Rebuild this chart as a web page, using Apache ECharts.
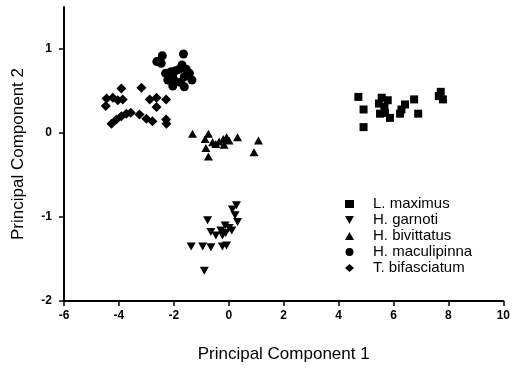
<!DOCTYPE html>
<html>
<head>
<meta charset="utf-8">
<script src="https://cdn.jsdelivr.net/npm/echarts@6/dist/echarts.min.js"></script>
<style>
  html, body { margin: 0; padding: 0; background: #fff; }
  #chart { width: 513px; height: 368px; }
</style>
</head>
<body>
<div id="chart"></div>
<script>
// PCA scores: [PC1, PC2]
var lMaximus = [
  [4.72, 0.43], [4.91, 0.28], [4.91, 0.07], [5.57, 0.42], [5.79, 0.39],
  [5.47, 0.35], [5.67, 0.31], [5.51, 0.23], [5.69, 0.24], [5.87, 0.18],
  [6.29, 0.28], [6.42, 0.34], [6.24, 0.23], [6.75, 0.40], [6.90, 0.23],
  [7.65, 0.44], [7.80, 0.40], [7.72, 0.49]
]
var hGarnoti = [
  [0.28, -0.86], [0.13, -0.91], [0.23, -0.98], [0.32, -1.06], [-0.77, -1.04],
  [-0.13, -1.10], [0.01, -1.13], [0.11, -1.16], [-0.65, -1.18], [-0.47, -1.22],
  [-0.23, -1.22], [-0.11, -1.19], [-0.29, -1.16], [-1.37, -1.35], [-0.95, -1.35],
  [-0.65, -1.36], [-0.23, -1.35], [-0.08, -1.34], [-0.89, -1.64]
]
var hBivittatus = [
  [-1.32, -0.01], [-0.74, -0.01], [-0.86, -0.07], [-0.59, -0.11], [-0.47, -0.13],
  [-0.35, -0.10], [-0.20, -0.07], [-0.08, -0.05], [0.01, -0.09], [-0.17, -0.14],
  [0.32, -0.05], [-0.83, -0.18], [-0.74, -0.28], [1.08, -0.09], [0.92, -0.23]
]
var hMaculipinna = [
  [-1.65, 0.94], [-2.42, 0.92], [-2.62, 0.85], [-2.46, 0.83], [-1.70, 0.81],
  [-2.30, 0.71], [-2.10, 0.73], [-1.94, 0.74], [-1.80, 0.76], [-1.55, 0.76],
  [-1.43, 0.71], [-1.34, 0.63], [-1.62, 0.67], [-2.04, 0.67], [-2.22, 0.63],
  [-1.92, 0.61], [-1.74, 0.60], [-2.04, 0.56], [-1.62, 0.55], [-2.20, 0.70]
]
var tBifasciatum = [
  [-3.91, 0.53], [-3.18, 0.54], [-4.45, 0.41], [-4.22, 0.42], [-4.04, 0.39],
  [-3.86, 0.40], [-4.48, 0.32], [-2.88, 0.40], [-2.63, 0.42], [-2.28, 0.40],
  [-2.63, 0.31], [-4.27, 0.11], [-4.09, 0.16], [-3.91, 0.20], [-3.73, 0.23],
  [-3.57, 0.24], [-3.25, 0.22], [-3.00, 0.17], [-2.78, 0.14], [-2.28, 0.16],
  [-2.27, 0.11]
]
var names = ['L. maximus', 'H. garnoti', 'H. bivittatus', 'H. maculipinna', 'T. bifasciatum']
var yTicks = [-2, -1, 0, 1]

var downTri = 'path://M0,0L10,0L5,9Z'
var font = 'Arial, "Liberation Sans", sans-serif'

var chart = echarts.init(document.getElementById('chart'))

function makeSeries(name, data, symbol, size) {
  return {
    name: name,
    type: 'scatter',
    data: data,
    symbol: symbol,
    symbolSize: size,
    itemStyle: { color: '#000', opacity: 1 },
    emphasis: { disabled: true },
    animation: false
  }
}

chart.setOption({
  backgroundColor: '#fff',
  animation: false,
  grid: { left: 64, right: 7, top: 7, bottom: 65 },
  legend: {
    orient: 'vertical',
    left: 340,
    top: 191,
    itemWidth: 9,
    itemHeight: 8,
    itemGap: 0,
    selectedMode: false,
    textStyle: { fontFamily: font, fontSize: 15, lineHeight: 16, color: '#000', padding: [0, 0, 0, 14] },
    data: [
      { name: names[0], icon: 'rect' },
      { name: names[1], icon: downTri },
      { name: names[2], icon: 'triangle' },
      { name: names[3], icon: 'circle' },
      { name: names[4], icon: 'diamond' }
    ]
  },
  xAxis: {
    type: 'value',
    min: -6,
    max: 10,
    interval: 2,
    name: 'Principal Component 1',
    nameLocation: 'middle',
    nameGap: 45,
    nameTextStyle: { fontFamily: font, fontSize: 17, color: '#000' },
    axisLine: { onZero: false, lineStyle: { color: '#000', width: 2 } },
    axisTick: { length: 5, lineStyle: { color: '#000', width: 1.5 } },
    axisLabel: { fontFamily: font, fontSize: 12, fontWeight: 'bold', color: '#000', margin: 9 },
    splitLine: { show: false }
  },
  yAxis: {
    type: 'value',
    min: -2,
    max: 1.5,
    name: 'Principal Component 2',
    nameLocation: 'middle',
    nameGap: 37,
    nameRotate: 90,
    nameTextStyle: { fontFamily: font, fontSize: 17, color: '#000' },
    axisLine: { onZero: false, lineStyle: { color: '#000', width: 2 } },
    axisTick: { length: 5, customValues: yTicks, lineStyle: { color: '#000', width: 1.5 } },
    axisLabel: { customValues: yTicks, fontFamily: font, fontSize: 12, fontWeight: 'bold', color: '#000', margin: 12 },
    splitLine: { show: false }
  },
  series: [
    makeSeries(names[0], lMaximus, 'rect', 8),
    makeSeries(names[1], hGarnoti, downTri, [9, 8]),
    makeSeries(names[2], hBivittatus, 'triangle', [9, 8]),
    makeSeries(names[3], hMaculipinna, 'circle', 9),
    makeSeries(names[4], tBifasciatum, 'diamond', 10)
  ]
})
</script>
</body>
</html>
